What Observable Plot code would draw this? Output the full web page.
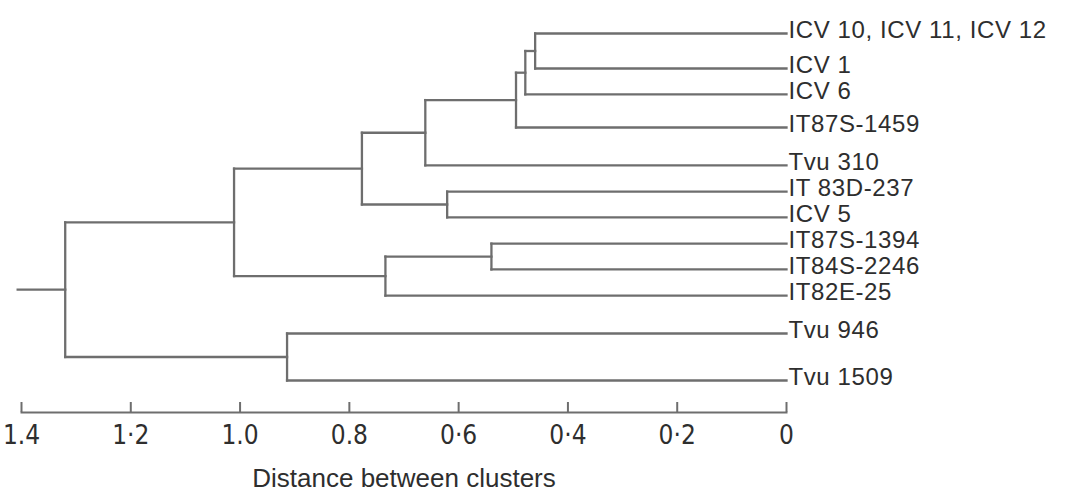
<!DOCTYPE html>
<html>
<head>
<meta charset="utf-8">
<script src="https://cdn.jsdelivr.net/npm/d3@7"></script>
<script src="https://cdn.jsdelivr.net/npm/@observablehq/plot@0.6"></script>
<style>
  html, body { margin: 0; padding: 0; background: #ffffff; }
  #chart { width: 1070px; height: 497px; }
  #chart g.leaf-label text { letter-spacing: 0.6px; }
</style>
</head>
<body>
<div id="chart"></div>
<script>
// Leaves (top to bottom) and their row positions
const leaves = ["ICV 10, ICV 11, ICV 12", "ICV 1", "ICV 6", "IT87S-1459", "Tvu 310",
  "IT 83D-237", "ICV 5", "IT87S-1394", "IT84S-2246", "IT82E-25", "Tvu 946", "Tvu 1509"];
const leafRow = [0, 1.11, 1.93, 2.98, 4.18, 5.01, 5.83, 6.66, 7.48, 8.31, 9.51, 11];

// Merges: indices 0..11 are leaves, 12.. are earlier merges (in order)
const mergeLeft   = [0, 12, 13, 14, 5, 15, 7, 18, 17, 10, 20];
const mergeRight  = [1, 2, 3, 4, 6, 16, 8, 9, 19, 11, 21];
const mergeHeight = [0.46, 0.478, 0.495, 0.661, 0.621, 0.777, 0.54, 0.734, 1.011, 0.914, 1.32];
const rootStub = 1.407;

// Axis ticks
const tickValues = [1.4, 1.2, 1.0, 0.8, 0.6, 0.4, 0.2, 0];
const tickLabels = ["1.4", "1·2", "1.0", "0.8", "0·6", "0·4", "0·2", "0"];
const axisTitle = "Distance between clusters";

// Build dendrogram segments
const nodeX = leaves.map(() => 0);
const nodeY = leafRow.slice();
const segments = [];
mergeLeft.forEach((l, i) => {
  const r = mergeRight[i], h = mergeHeight[i];
  segments.push({x1: h, y1: nodeY[l], x2: h, y2: nodeY[r]});
  segments.push({x1: nodeX[l], y1: nodeY[l], x2: h, y2: nodeY[l]});
  segments.push({x1: nodeX[r], y1: nodeY[r], x2: h, y2: nodeY[r]});
  nodeX.push(h);
  nodeY.push((nodeY[l] + nodeY[r]) / 2);
});
const rootIdx = nodeX.length - 1;
segments.push({x1: nodeX[rootIdx], y1: nodeY[rootIdx], x2: rootStub, y2: nodeY[rootIdx]});

const leafData = leaves.map((name, i) => ({name, x: 0, y: leafRow[i]}));

const lineColor = "#6e6e6e";
const textColor = "#2e2e2e";

const chart = Plot.plot({
  width: 1070,
  height: 497,
  marginLeft: 21,
  marginRight: 284,
  marginTop: 0,
  marginBottom: 85,
  style: {fontFamily: "'Liberation Sans', Arial, sans-serif", background: "#ffffff", overflow: "visible"},
  x: {domain: [1.4, 0], label: null},
  y: {domain: [0, 11], range: [33, 380], axis: null},
  marks: [
    Plot.link(segments, {x1: "x1", y1: "y1", x2: "x2", y2: "y2",
      stroke: lineColor, strokeWidth: 2.3, strokeLinecap: "square"}),
    Plot.text(leafData, {x: "x", y: "y", text: "name", textAnchor: "start",
      dx: 2, dy: -3, fontSize: 24, fill: textColor, className: "leaf-label",
      fontFamily: "'Liberation Sans', Arial, sans-serif"}),
    Plot.frame({anchor: "bottom", stroke: lineColor, strokeWidth: 2}),
    Plot.tickX(tickValues, {x: d => d, insetTop: 402, stroke: lineColor, strokeWidth: 2}),
    Plot.axisX(tickValues, {
      tickSize: 0, tickPadding: 13,
      tickFormat: d => tickLabels[tickValues.indexOf(d)],
      fontSize: 26, fill: textColor,
      fontFamily: "'Liberation Sans Narrow', 'DejaVu Sans Condensed', sans-serif",
      label: null
    }),
    Plot.text([axisTitle], {frameAnchor: "bottom", dy: 74, fontSize: 26, fill: textColor,
      fontFamily: "'Liberation Sans', Arial, sans-serif"})
  ]
});
document.getElementById("chart").appendChild(chart);
</script>
</body>
</html>
